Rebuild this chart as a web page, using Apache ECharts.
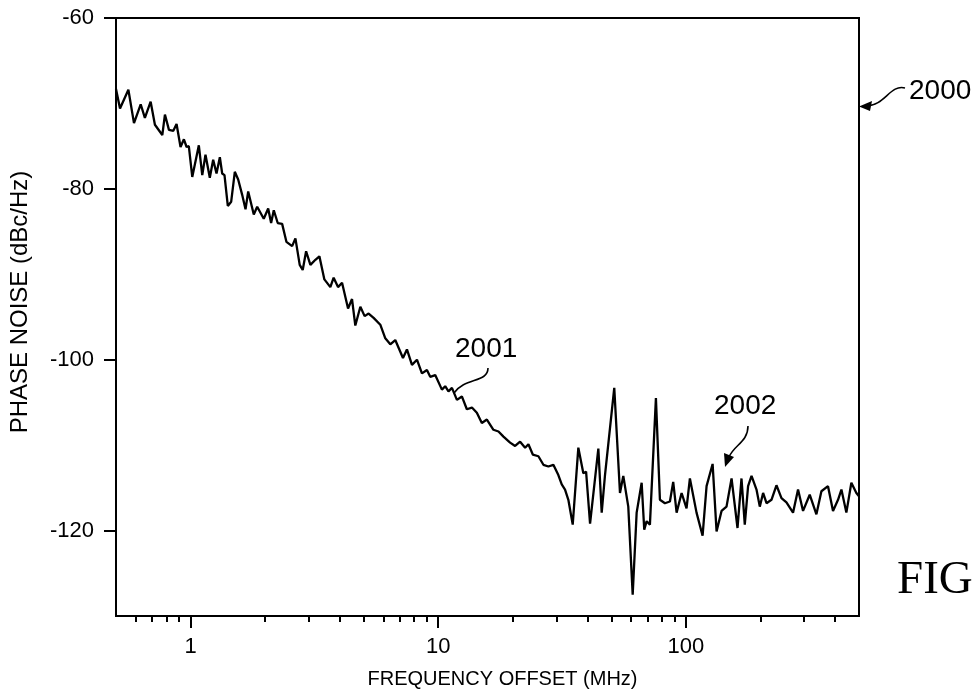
<!DOCTYPE html>
<html>
<head>
<meta charset="utf-8">
<script src="https://cdn.jsdelivr.net/npm/echarts@6/dist/echarts.min.js"></script>
<style>
html,body{margin:0;padding:0;background:#fff;}
#chart{width:979px;height:698px;}
</style>
</head>
<body>
<div id="chart"></div>
<script>
// Frequency offset (MHz)
var freqMHz = [
  0.5, 0.519, 0.561, 0.591, 0.629, 0.654, 0.690, 0.718, 0.769, 0.788,
  0.818, 0.852, 0.878, 0.911, 0.940, 0.964, 0.984, 1.016, 1.080, 1.115,
  1.149, 1.196, 1.234, 1.273, 1.313, 1.342, 1.371, 1.414, 1.459, 1.509,
  1.557, 1.616, 1.667, 1.709, 1.800, 1.858, 1.975, 2.058, 2.115, 2.168,
  2.249, 2.343, 2.438, 2.571, 2.651, 2.759, 2.837, 2.928, 3.047, 3.192,
  3.313, 3.470, 3.668, 3.782, 3.940, 4.090, 4.324, 4.487, 4.627, 4.848,
  5.045, 5.236, 5.484, 5.836, 6.114, 6.404, 6.708, 7.205, 7.477, 7.834,
  8.206, 8.596, 9.004, 9.284, 9.725, 10.35, 10.67, 11.00, 11.36, 11.90,
  12.46, 13.05, 13.68, 14.32, 15.00, 15.72, 16.71, 17.51, 18.34, 19.51,
  20.44, 21.41, 22.43, 23.13, 24.09, 25.38, 26.59, 27.85, 29.17, 30.55,
  31.53, 32.51, 33.53, 34.92, 36.79, 38.54, 39.54, 41.03, 44.31, 45.72,
  47.14, 51.38, 54.19, 55.88, 58.53, 60.98, 63.27, 66.28, 67.90, 69.42,
  71.58, 75.68, 78.55, 82.29, 86.20, 88.88, 91.74, 96.10, 100.6, 103.8,
  110.4, 116.8, 121.2, 128.2, 133.0, 139.3, 145.9, 152.9, 161.6, 167.7,
  172.9, 178.3, 184.1, 192.8, 198.8, 205.0, 211.6, 221.6, 232.1, 243.2,
  254.7, 270.8, 283.7, 297.2, 316.2, 336.5, 352.5, 374.8, 392.7, 411.4,
  424.6, 444.6, 465.7, 487.9, 500
];
// Phase noise (dBc/Hz)
var phaseNoise = [
  -68.3, -70.6, -68.4, -72.3, -70.1, -71.7, -69.8, -72.5, -73.7, -71.3,
  -73.1, -73.2, -72.4, -75.1, -74.2, -75.1, -75.0, -78.6, -74.9, -78.4,
  -76.0, -78.7, -76.6, -78.2, -76.3, -78.2, -78.4, -82.0, -81.5, -78.0,
  -78.9, -80.7, -82.4, -80.3, -83.0, -82.1, -83.5, -82.3, -84.0, -82.5,
  -84.0, -84.1, -86.2, -86.7, -85.8, -88.9, -89.5, -87.3, -88.9, -88.3,
  -87.9, -90.6, -91.5, -90.4, -91.5, -91.0, -94.0, -92.9, -96.0, -93.8,
  -94.9, -94.6, -95.1, -95.9, -97.5, -98.2, -97.7, -99.8, -98.8, -100.6,
  -100.0, -101.6, -101.2, -102.0, -101.8, -103.5, -103.1, -103.7, -103.3, -104.7,
  -104.3, -105.8, -105.6, -106.2, -107.4, -107.0, -108.2, -108.4, -109.0, -109.7,
  -110.1, -109.6, -110.3, -109.9, -111.1, -111.3, -112.3, -112.5, -112.3, -113.5,
  -114.6, -115.2, -116.4, -119.3, -110.3, -113.3, -113.1, -119.2, -110.4, -117.9,
  -113.5, -103.3, -115.6, -113.6, -117.2, -127.5, -117.9, -114.4, -119.9, -118.9,
  -119.3, -104.5, -116.4, -116.8, -116.6, -114.3, -117.9, -115.6, -117.4, -113.9,
  -117.9, -120.6, -114.8, -112.2, -120.1, -117.7, -117.2, -113.9, -119.7, -113.9,
  -119.3, -114.8, -113.6, -115.2, -117.2, -115.6, -116.8, -116.4, -114.7, -116.2,
  -116.7, -117.9, -115.2, -117.7, -115.8, -118.1, -115.4, -114.8, -117.7, -116.4,
  -115.2, -117.9, -114.4, -115.6, -116.0
];
var xMajorTicks = [1, 10, 100];
var xMinorTicks = [0.6, 0.7, 0.8, 0.9, 2, 3, 4, 5, 6, 7, 8, 9, 20, 30, 40, 50, 60, 70, 80, 90, 200, 300, 400];
var yTicks = [-60, -80, -100, -120];

var seriesData = freqMHz.map(function (f, i) { return [f, phaseNoise[i]]; });

var FONT = "'Liberation Sans', Arial, Helvetica, sans-serif";
var chart = echarts.init(document.getElementById('chart'), null, { renderer: 'canvas' });
var option = {
  backgroundColor: '#fff',
  animation: false,
  grid: { left: 114, right: 120, top: 18, bottom: 82, show: true, borderColor: '#000', borderWidth: 2, backgroundColor: 'transparent' },
  xAxis: [
    {
      type: 'log', logBase: 10, min: 0.5, max: 500,
      name: 'FREQUENCY OFFSET (MHz)', nameLocation: 'middle', nameGap: 53,
      nameTextStyle: { color: '#000', fontFamily: FONT, fontSize: 20, padding: [0, 0, 0, 30] },
      axisLine: { show: true, lineStyle: { color: '#000', width: 2 } },
      axisTick: { show: true, customValues: xMajorTicks, length: 12, lineStyle: { color: '#000', width: 2 } },
      axisLabel: { show: true, customValues: xMajorTicks, color: '#000', fontFamily: FONT, fontSize: 22, margin: 20 },
      splitLine: { show: false }, minorTick: { show: false }
    },
    {
      type: 'log', logBase: 10, min: 0.5, max: 500, position: 'bottom',
      axisLine: { show: false },
      axisTick: { show: true, customValues: xMinorTicks, length: 6, lineStyle: { color: '#000', width: 2 } },
      axisLabel: { show: false },
      splitLine: { show: false }
    }
  ],
  yAxis: {
    type: 'value', min: -130, max: -60,
    name: 'PHASE NOISE (dBc/Hz)', nameLocation: 'middle', nameGap: 84, nameRotate: 90,
    nameTextStyle: { color: '#000', fontFamily: FONT, fontSize: 24, padding: [0, 0, 0, 30] },
    axisLine: { show: true, lineStyle: { color: '#000', width: 2 } },
    axisTick: { show: true, customValues: yTicks, length: 12, lineStyle: { color: '#000', width: 2 } },
    axisLabel: { show: true, customValues: yTicks, color: '#000', fontFamily: FONT, fontSize: 22, margin: 22 },
    splitLine: { show: false }
  },
  series: [{
    type: 'line', xAxisIndex: 0, data: seriesData, showSymbol: false, symbol: 'none',
    lineStyle: { color: '#000', width: 2.3 }, clip: true
  }],
  graphic: [
    { type: 'text', left: 909, top: 77, style: { text: '2000', fill: '#000', font: '28px ' + FONT } },
    { type: 'bezierCurve', shape: { x1: 905, y1: 88, cpx1: 890, cpy1: 84, cpx2: 885, cpy2: 106, x2: 866, y2: 106 }, style: { stroke: '#000', lineWidth: 1.6, fill: null } },
    { type: 'polygon', shape: { points: [[859, 106.5], [872, 101], [870, 111]] }, style: { fill: '#000' } },
    { type: 'text', left: 455, top: 335, style: { text: '2001', fill: '#000', font: '28px ' + FONT } },
    { type: 'bezierCurve', shape: { x1: 488, y1: 368, cpx1: 488, cpy1: 383, cpx2: 465, cpy2: 377, x2: 454, y2: 393 }, style: { stroke: '#000', lineWidth: 1.6, fill: null } },
    { type: 'text', left: 714, top: 392, style: { text: '2002', fill: '#000', font: '28px ' + FONT } },
    { type: 'bezierCurve', shape: { x1: 748, y1: 426, cpx1: 748, cpy1: 442, cpx2: 734, cpy2: 445, x2: 729, y2: 457 }, style: { stroke: '#000', lineWidth: 1.6, fill: null } },
    { type: 'polygon', shape: { points: [[725, 467], [724, 453], [734, 457]] }, style: { fill: '#000' } },
    { type: 'text', left: 897, top: 557, style: { text: 'FIG', fill: '#000', font: '47px "Liberation Serif", "Times New Roman", serif' } }
  ]
};
chart.setOption(option);
</script>
</body>
</html>
